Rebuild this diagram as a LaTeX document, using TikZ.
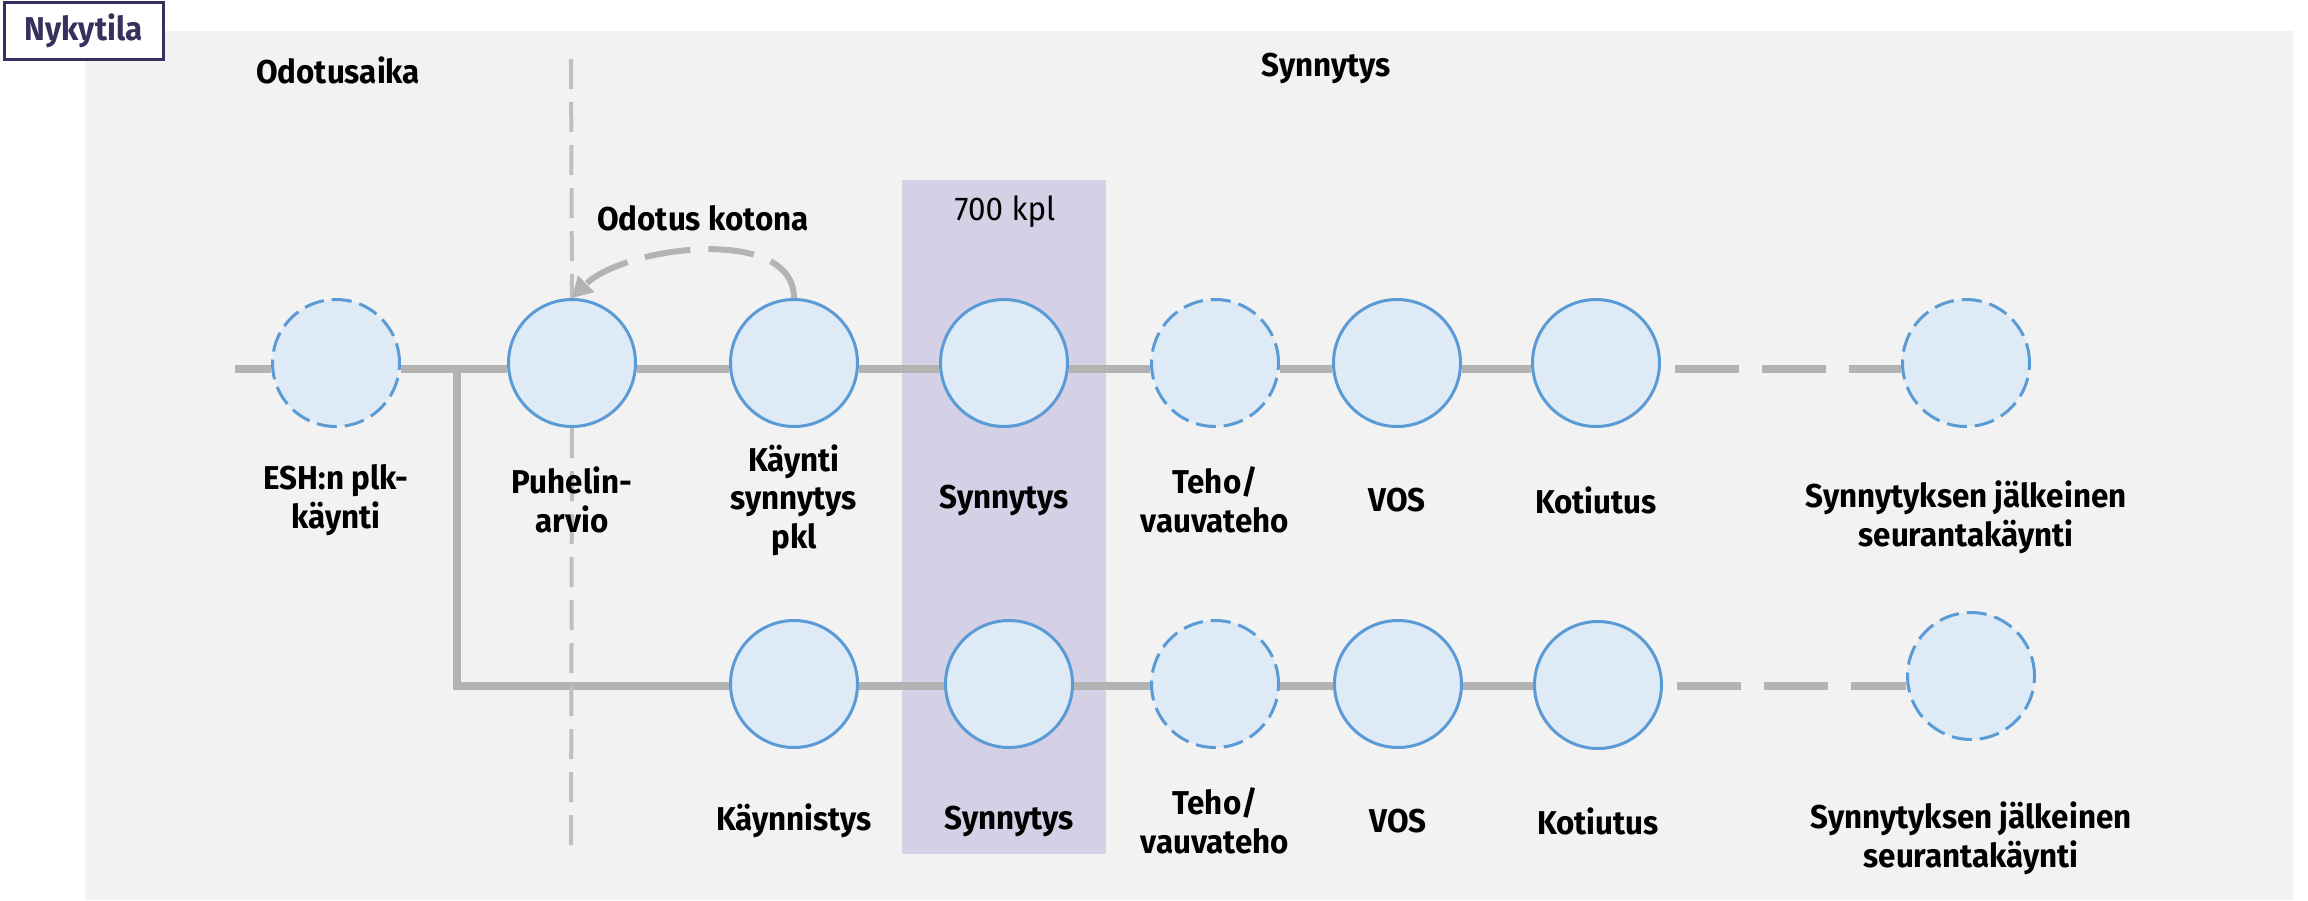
\documentclass[tikz,border=0pt]{standalone}
\usepackage{fontspec}
\setmainfont{Fira Sans}[FakeStretch=0.95]
\usetikzlibrary{positioning,arrows.meta}
\definecolor{bggrey}{RGB}{242,242,242}
\definecolor{flowgrey}{RGB}{179,179,179}
\definecolor{divgrey}{RGB}{191,191,191}
\definecolor{circfill}{RGB}{222,234,246}
\definecolor{circline}{RGB}{91,155,213}
\definecolor{focuspurple}{RGB}{212,208,230}
\definecolor{titlepurple}{RGB}{55,48,93}

\begin{document}
\begin{tikzpicture}[
    x=0.5pt, y=-0.5pt,
    every node/.style={font=\fontsize{16.5pt}{19.3pt}\selectfont},
    phase/.style={circle, draw=circline, fill=circfill, line width=1.5pt, minimum size=63.5pt, inner sep=0pt},
    optphase/.style={phase, dash pattern=on 10pt off 4pt},
    lbl/.style={font=\fontsize{16.5pt}{19.3pt}\selectfont\bfseries, align=center},
    flow/.style={draw=flowgrey, line width=3.75pt},
    flowdash/.style={flow, dash pattern=on 32pt off 11.5pt, dash phase=36.5pt},
    divider/.style={draw=divgrey, line width=2pt, dash pattern=on 15pt off 6.5pt},
    waitarrow/.style={draw=flowgrey, line width=3pt, dash pattern=on 23pt off 9pt, -{Triangle[length=10pt,width=11pt]}}
]
\useasboundingbox (0,0) rectangle (2308,900);
\fill[bggrey] (85,31) rectangle (2293,900);

% Title box and headers
\node[draw=titlepurple, line width=1.5pt, fill=white, text=titlepurple, font=\fontsize{16.5pt}{19.3pt}\selectfont\bfseries,
      minimum width=79.5pt, minimum height=28.5pt, inner sep=0pt] (title) at (83.5,30.5) {Nykytila};
\node[lbl] (waitH) at (338,70) {Odotusaika};
\node[lbl] (birthH) at (1326,68) {Synnytys};

% Highlighted birth column
\fill[focuspurple] (902,180) rectangle (1106,854);
\node (count) at (1005,212) {700 kpl};

% Flow rows
\coordinate (rowA) at (0,369);
\coordinate (rowB) at (0,686);
\coordinate (start) at (235,369);
\coordinate (split) at (457,369);
\coordinate (divtop) at (571,59);
\coordinate (divbot) at (571,858);

% Upper path
\node[optphase] (esh) at (336,363) {};
\node[phase] (puhelin) at (572,363) {};
\node[phase] (pkl) at (794,363) {};
\node[phase] (syn) at (1004,363) {};
\node[optphase] (teho) at (1215,363) {};
\node[phase] (vos) at (1397,363) {};
\node[phase] (koti) at (1596,363) {};
\node[optphase] (seur) at (1966,363) {};

% Lower path
\node[phase] (kay) at (794,684) {};
\node[phase] (synB) at (1009,684) {};
\node[optphase] (tehoB) at (1215,684) {};
\node[phase] (vosB) at (1398,684) {};
\node[phase] (kotiB) at (1598,685) {};
\node[optphase] (seurB) at (1971,676) {};

% Connectors
\draw[flow] (start) -- (esh.west |- rowA);
\draw[flow] (esh.east |- rowA) -- (puhelin.west |- rowA);
\draw[flow] (puhelin.east |- rowA) -- (pkl.west |- rowA);
\draw[flow] (pkl.east |- rowA) -- (syn.west |- rowA);
\draw[flow] (syn.east |- rowA) -- (teho.west |- rowA);
\draw[flow] (teho.east |- rowA) -- (vos.west |- rowA);
\draw[flow] (vos.east |- rowA) -- (koti.west |- rowA);
\draw[flowdash] (koti.east |- rowA) -- (seur.west |- rowA);

\draw[flow] (split) |- (kay.west |- rowB);
\draw[flow] (kay.east |- rowB) -- (synB.west |- rowB);
\draw[flow] (synB.east |- rowB) -- (tehoB.west |- rowB);
\draw[flow] (tehoB.east |- rowB) -- (vosB.west |- rowB);
\draw[flow] (vosB.east |- rowB) -- (kotiB.west |- rowB);
\draw[flowdash] (kotiB.east |- rowB) -- (seurB.west |- rowB);

% Divider between waiting and birth
\draw[divider] (divtop) -- (puhelin.north);
\draw[divider] (puhelin.south) -- (divbot);

% Waiting at home
\draw[waitarrow] (pkl.north) to[out=90, in=45, looseness=0.85] (puhelin.north);
\node[lbl] (homeL) at (703,218) {Odotus kotona};

% Labels upper
\node[lbl] (eshL) at (336,500) {ESH:n plk-\\käynti};
\node[lbl] (puhelinL) at (572,500) {Puhelin-\\arvio};
\node[lbl] (pklL) at (794,500) {Käynti\\synnytys\\pkl};
\node[lbl] (synL) at (1004,500) {Synnytys};
\node[lbl] (tehoL) at (1215,500) {Teho/\\vauvateho};
\node[lbl] (vosL) at (1397,500) {VOS};
\node[lbl] (kotiL) at (1596,500) {Kotiutus};
\node[lbl] (seurL) at (1966,517) {Synnytyksen jälkeinen\\seurantakäynti};

% Labels lower
\node[lbl] (kayL) at (794,821) {Käynnistys};
\node[lbl] (synBL) at (1009,821) {Synnytys};
\node[lbl] (tehoBL) at (1215,821) {Teho/\\vauvateho};
\node[lbl] (vosBL) at (1398,821) {VOS};
\node[lbl] (kotiBL) at (1598,821) {Kotiutus};
\node[lbl] (seurBL) at (1971,838) {Synnytyksen jälkeinen\\seurantakäynti};

\end{tikzpicture}
\end{document}
